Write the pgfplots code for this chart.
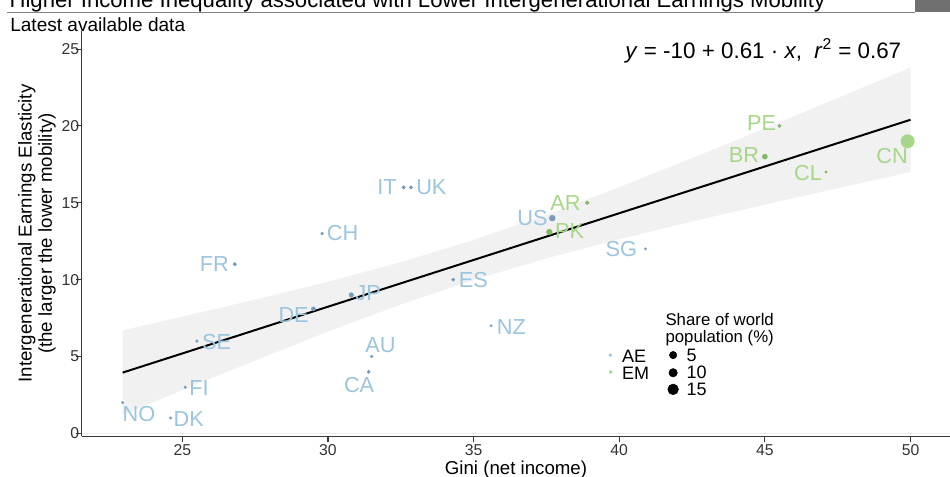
\documentclass[border=0pt]{standalone}
\usepackage{pgfplots}
\pgfplotsset{compat=1.18}
\usepackage{pgfplotstable}
\usepackage{fontspec}
\setmainfont{Liberation Sans}

\definecolor{aecol}{RGB}{155,196,222}
\definecolor{emcol}{RGB}{166,214,136}
\definecolor{aedot}{RGB}{120,155,185}
\definecolor{emdot}{RGB}{130,185,100}
\definecolor{bandcol}{RGB}{241,241,241}
\definecolor{axcol}{RGB}{55,55,55}
\definecolor{rulecol}{RGB}{130,130,130}
\definecolor{boxcol}{RGB}{112,112,112}

% confidence band: upper edge left to right, then lower edge right to left
\pgfplotstableread{
x y
22.95 6.70
25.0 7.59
27.5 8.70
30.0 9.86
32.5 11.14
35.0 12.58
37.5 14.22
40.0 16.01
42.5 17.90
45.0 19.84
47.5 21.81
50.0 23.80
50.0 17.00
47.5 15.95
45.0 14.88
42.5 13.78
40.0 12.63
37.5 11.38
35.0 9.98
32.5 8.38
30.0 6.62
27.5 4.74
25.0 2.81
22.95 1.20
}\bandtable

\pgfplotstableread{
x y r
22.95 2.0 0.9
24.6 1.0 0.9
25.1 3.0 0.9
25.5 6.0 1.0
26.8 11.0 1.3
29.8 13.0 1.0
29.5 8.1 1.5
30.8 9.0 1.7
31.5 5.0 1.0
31.4 4.0 1.2
32.6 16.0 1.3
32.85 16.0 1.3
34.3 10.0 1.2
35.6 7.0 0.8
37.7 14.0 2.2
40.9 12.0 0.8
}\aetable

\pgfplotstableread{
x y r
37.6 13.1 2.1
38.9 15.0 1.4
45.5 20.0 1.2
45.0 18.0 1.9
47.1 17.0 0.9
}\emtable

\pgfplotstableread{
x y r
41.85 5.09 2.75
41.85 3.94 3.15
41.85 2.86 4.0
}\sizetable

\begin{document}
\begin{tikzpicture}
\begin{axis}[
  at={(61.28pt,-327.3pt)}, anchor=south west,
  scale only axis, width=651.2pt, height=304.35pt,
  xmin=21.545, xmax=51.355, ymin=-0.2, ymax=26.2,
  axis x line*=bottom, axis y line*=left,
  axis line style={axcol, line width=1.1pt},
  xtick={25,30,35,40,45,50}, ytick={0,5,10,15,20,25},
  tick align=outside, major tick length=4.5pt,
  tick style={axcol, line width=0.8pt},
  /pgf/number format/assume math mode=true,
  ticklabel style={font=\fontsize{11.8}{13}\selectfont, text=black!80},
  xticklabel style={inner sep=0pt, anchor=north, yshift=-1.7pt},
  yticklabel style={inner sep=0pt, anchor=east, xshift=2.7pt},
  clip=false,
]
\draw[black!7, line width=0.5pt] (axis cs:21.545,0) -- (axis cs:51.355,0);
\addplot[fill=bandcol, draw=none] table[x=x, y=y] {\bandtable} \closedcycle;
\addplot[black, line width=1.5pt] coordinates {(22.95,3.95) (50,20.4)};

% points
\addplot[scatter, only marks, mark=*,
  visualization depends on={\thisrow{r}\as\rr},
  scatter/use mapped color={draw=aedot, fill=aedot},
  scatter/@pre marker code/.append style={/tikz/mark size=\rr pt}]
  table[x=x, y=y] {\aetable};
\addplot[scatter, only marks, mark=*,
  visualization depends on={\thisrow{r}\as\rr},
  scatter/use mapped color={draw=emdot, fill=emdot},
  scatter/@pre marker code/.append style={/tikz/mark size=\rr pt}]
  table[x=x, y=y] {\emtable};
\addplot[only marks, mark=*, mark size=5pt, mark options={draw=emcol, fill=emcol}] coordinates {(49.9,19.0)};
\draw[black!70, line width=0.6pt] (axis cs:49.85,18.95) -- (axis cs:49.97,19.08);

% labels
\begin{scope}[every node/.style={inner sep=0pt, anchor=center, font=\fontsize{16.3}{18}\selectfont}]
\node[text=aecol] at (axis cs:23.51,1.25) {NO};
\node[text=aecol] at (axis cs:25.22,0.93) {DK};
\node[text=aecol] at (axis cs:25.57,2.95) {FI};
\node[text=aecol] at (axis cs:26.18,5.94) {SE};
\node[text=aecol] at (axis cs:26.10,11.02) {FR};
\node[text=aecol] at (axis cs:30.50,13.03) {CH};
\node[text=aecol] at (axis cs:28.82,7.70) {DE};
\node[text=aecol] at (axis cs:31.38,9.10) {JP};
\node[text=aecol] at (axis cs:31.80,5.74) {AU};
\node[text=aecol] at (axis cs:31.07,3.14) {CA};
\node[text=aecol] at (axis cs:32.03,16.02) {IT};
\node[text=aecol] at (axis cs:33.55,16.02) {UK};
\node[text=aecol] at (axis cs:34.99,9.97) {ES};
\node[text=aecol] at (axis cs:36.30,6.94) {NZ};
\node[text=aecol] at (axis cs:37.02,13.99) {US};
\node[text=aecol] at (axis cs:40.07,11.96) {SG};
\node[text=emcol] at (axis cs:38.30,13.19) {PK};
\node[text=emcol] at (axis cs:38.15,14.96) {AR};
\node[text=emcol] at (axis cs:44.89,20.17) {PE};
\node[text=emcol] at (axis cs:44.28,18.11) {BR};
\node[text=emcol] at (axis cs:46.48,16.92) {CL};
\node[text=emcol] at (axis cs:49.37,18.04) {CN};
\end{scope}

% equation
\node[anchor=base west, inner sep=0pt, font=\fontsize{16.8}{19}\selectfont] at (axis cs:40.2,24.4) {\textit{y} = -10 + 0.61 · \textit{x},\ \ \textit{r}\textsuperscript{2} = 0.67};

% legend
\addplot[only marks, mark=*, mark size=1.1pt, mark options={draw=aecol, fill=aecol}] coordinates {(39.69,5.09)};
\addplot[only marks, mark=*, mark size=1.1pt, mark options={draw=emcol, fill=emcol}] coordinates {(39.71,3.99)};
\addplot[scatter, only marks, mark=*,
  visualization depends on={\thisrow{r}\as\rr},
  scatter/use mapped color={draw=black, fill=black},
  scatter/@pre marker code/.append style={/tikz/mark size=\rr pt}]
  table[x=x, y=y] {\sizetable};
\begin{scope}[every node/.style={inner sep=0pt, font=\fontsize{13.5}{16}\selectfont}]
\node[anchor=west] at (axis cs:40.09,5.03) {AE};
\node[anchor=west] at (axis cs:40.09,3.88) {EM};
\node[anchor=west] at (axis cs:42.30,5.09) {5};
\node[anchor=west] at (axis cs:42.30,3.94) {10};
\node[anchor=west] at (axis cs:42.30,2.86) {15};
\node[anchor=base west, font=\fontsize{12.6}{15}\selectfont] at (axis cs:41.58,7.02) {Share of world};
\node[anchor=base west, font=\fontsize{12.6}{15}\selectfont] at (axis cs:41.58,5.90) {population (\%)};
\end{scope}
\end{axis}

% header (cut-off title, rule, page box)
\begin{scope}
\clip (0pt,0pt) rectangle (712.5pt,-20pt);
\node[anchor=base west, inner sep=0pt, font=\fontsize{16.6}{19}\selectfont] at (7pt,-5.6pt) {Higher Income Inequality associated with Lower Intergenerational Earnings Mobility};
\end{scope}
\draw[rulecol, line width=1.1pt] (5.25pt,-9.5pt) -- (686pt,-9.5pt);
\fill[boxcol] (686.25pt,0pt) rectangle (712.5pt,-9pt);
\node[anchor=base west, inner sep=0pt, font=\fontsize{14.3}{17}\selectfont] at (7.5pt,-23.8pt) {Latest available data};

% axis titles
\node[anchor=base, inner sep=0pt, font=\fontsize{14}{16}\selectfont] at (387pt,-356.2pt) {Gini (net income)};
\node[anchor=base, rotate=90, inner sep=0pt, font=\fontsize{14}{16}\selectfont] at (23.7pt,-175.1pt) {Intergenerational Earnings Elasticity};
\node[anchor=base, rotate=90, inner sep=0pt, font=\fontsize{14}{16}\selectfont] at (38.85pt,-175.1pt) {(the larger the lower mobility)};
\pgfresetboundingbox
\useasboundingbox (0pt,0pt) rectangle (712.5pt,-357.75pt);
\end{tikzpicture}
\end{document}
